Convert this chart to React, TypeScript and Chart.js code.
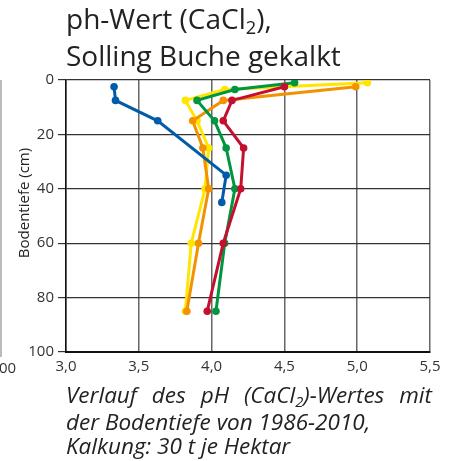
import React, { useEffect, useRef } from "react";
import { Chart, registerables } from "chart.js";

Chart.register(...registerables);

// Depth (cm) and pH (CaCl2) per series
const blueDepth = [2.5, 7.5, 15, 35, 45];
const bluePH = [3.33, 3.34, 3.63, 4.1, 4.07];

const redDepth = [2.5, 7.5, 15, 25, 40, 60, 85];
const redPH = [4.5, 4.14, 4.08, 4.22, 4.2, 4.08, 3.97];

const greenDepth = [1, 3.5, 7.5, 15, 25, 40, 60, 85];
const greenPH = [4.57, 4.16, 3.9, 4.02, 4.1, 4.16, 4.09, 4.03];

const orangeDepth = [2.5, 7.5, 15, 25, 40, 60, 85];
const orangePH = [4.99, 4.08, 3.87, 3.94, 3.98, 3.91, 3.83];

const yellowDepth = [1, 3.5, 7.5, 15, 25, 40, 60, 85];
const yellowPH = [5.07, 4.09, 3.82, 3.9, 3.98, 3.955, 3.86, 3.82];

const xTickValues = [3.0, 3.5, 4.0, 4.5, 5.0, 5.5];
const yTickValues = [0, 20, 40, 60, 80, 100];

const FONT = "'Open Sans', 'Noto Sans', sans-serif";

function pts(xs: number[], ys: number[]) {
  return xs.map((x, i) => ({ x, y: ys[i] }));
}

function ds(label: string, color: string, ph: number[], depth: number[]) {
  return {
    label,
    data: pts(ph, depth),
    showLine: true,
    borderColor: color,
    backgroundColor: color,
    pointBackgroundColor: color,
    pointBorderColor: color,
    borderWidth: 3,
    pointRadius: 3.8,
    pointBorderWidth: 0,
    tension: 0,
  };
}

export default function App() {
  const ref = useRef<HTMLCanvasElement>(null);

  useEffect(() => {
    if (!ref.current) return;
    const chart = new Chart(ref.current, {
      type: "scatter",
      data: {
        datasets: [
          ds("blau", "#005ca9", bluePH, blueDepth),
          ds("rot", "#c4102f", redPH, redDepth),
          ds("grün", "#009640", greenPH, greenDepth),
          ds("orange", "#f39200", orangePH, orangeDepth),
          ds("gelb", "#ffe500", yellowPH, yellowDepth),
        ],
      },
      options: {
        animation: false,
        responsive: false,
        layout: { padding: { top: 80, right: 23, left: 0, bottom: 0 } },
        plugins: {
          legend: { display: false },
          title: { display: false },
          tooltip: { enabled: false },
        },
        scales: {
          x: {
            type: "linear",
            min: 3,
            max: 5.5,
            afterBuildTicks: (scale: any) => {
              scale.ticks = xTickValues.map((v) => ({ value: v }));
            },
            afterFit: (scale: any) => {
              scale.height = 109;
            },
            ticks: {
              padding: 6,
              color: "#333",
              font: { family: FONT, size: 15 },
              callback: (v: any) => Number(v).toFixed(1).replace(".", ","),
            },
            grid: {
              color: "#666",
              lineWidth: 1.5,
              drawTicks: false,
            },
            border: { color: "#111", width: 2 },
          },
          y: {
            type: "linear",
            reverse: true,
            min: 0,
            max: 100,
            afterBuildTicks: (scale: any) => {
              scale.ticks = yTickValues.map((v) => ({ value: v }));
            },
            afterFit: (scale: any) => {
              scale.width = 66;
            },
            ticks: {
              padding: 4,
              color: "#333",
              font: { family: FONT, size: 15 },
            },
            grid: {
              color: "#333",
              lineWidth: 1.2,
              drawTicks: true,
              tickLength: 8,
            },
            border: { color: "#111", width: 1.5 },
          },
        },
      },
    });
    return () => chart.destroy();
  }, []);

  const sub = { fontSize: "0.65em", position: "relative" as const, top: "0.3em" };

  return (
    <div
      style={{
        position: "fixed",
        left: 0,
        top: 0,
        width: 453,
        height: 461,
        overflow: "hidden",
        background: "#fff",
        fontFamily: FONT,
        color: "#222",
      }}
    >
      <canvas ref={ref} width={453} height={461} style={{ position: "absolute", left: 0, top: 0 }} />
      {/* Title */}
      <div
        style={{
          position: "absolute",
          left: 66,
          top: 1.5,
          fontSize: 28,
          lineHeight: "33px",
          whiteSpace: "nowrap",
        }}
      >
        <div>
          ph-Wert (CaCl<span style={sub}>2</span>),
        </div>
        <div>Solling Buche gekalkt</div>
      </div>
      {/* Y axis title */}
      <div
        style={{
          position: "absolute",
          left: 23,
          top: 203,
          fontSize: 15,
          lineHeight: "20px",
          whiteSpace: "nowrap",
          color: "#222",
          transform: "translate(-50%, -50%) rotate(-90deg)",
        }}
      >
        Bodentiefe (cm)
      </div>
      {/* Caption */}
      <div
        style={{
          position: "absolute",
          left: 66,
          top: 383,
          width: 366,
          fontSize: 22.5,
          lineHeight: "24.5px",
          fontStyle: "italic",
          color: "#222",
        }}
      >
        <div style={{ display: "flex", justifyContent: "space-between", whiteSpace: "nowrap" }}>
          <span>Verlauf</span>
          <span>des</span>
          <span>pH</span>
          <span>
            (CaCl<span style={sub}>2</span>)-Wertes
          </span>
          <span>mit</span>
        </div>
        <div style={{ whiteSpace: "nowrap" }}>der Bodentiefe von 1986-2010,</div>
        <div style={{ whiteSpace: "nowrap" }}>Kalkung: 30 t je Hektar</div>
      </div>
      {/* Remnant of neighbouring panel on the left */}
      <div
        style={{
          position: "absolute",
          left: 0,
          top: 80,
          width: 1.5,
          height: 277,
          background: "#bbb",
        }}
      />
      <div
        style={{
          position: "absolute",
          left: -1,
          top: 357,
          fontSize: 15,
          lineHeight: "20px",
          color: "#333",
          whiteSpace: "nowrap",
        }}
      >
        00
      </div>
    </div>
  );
}
